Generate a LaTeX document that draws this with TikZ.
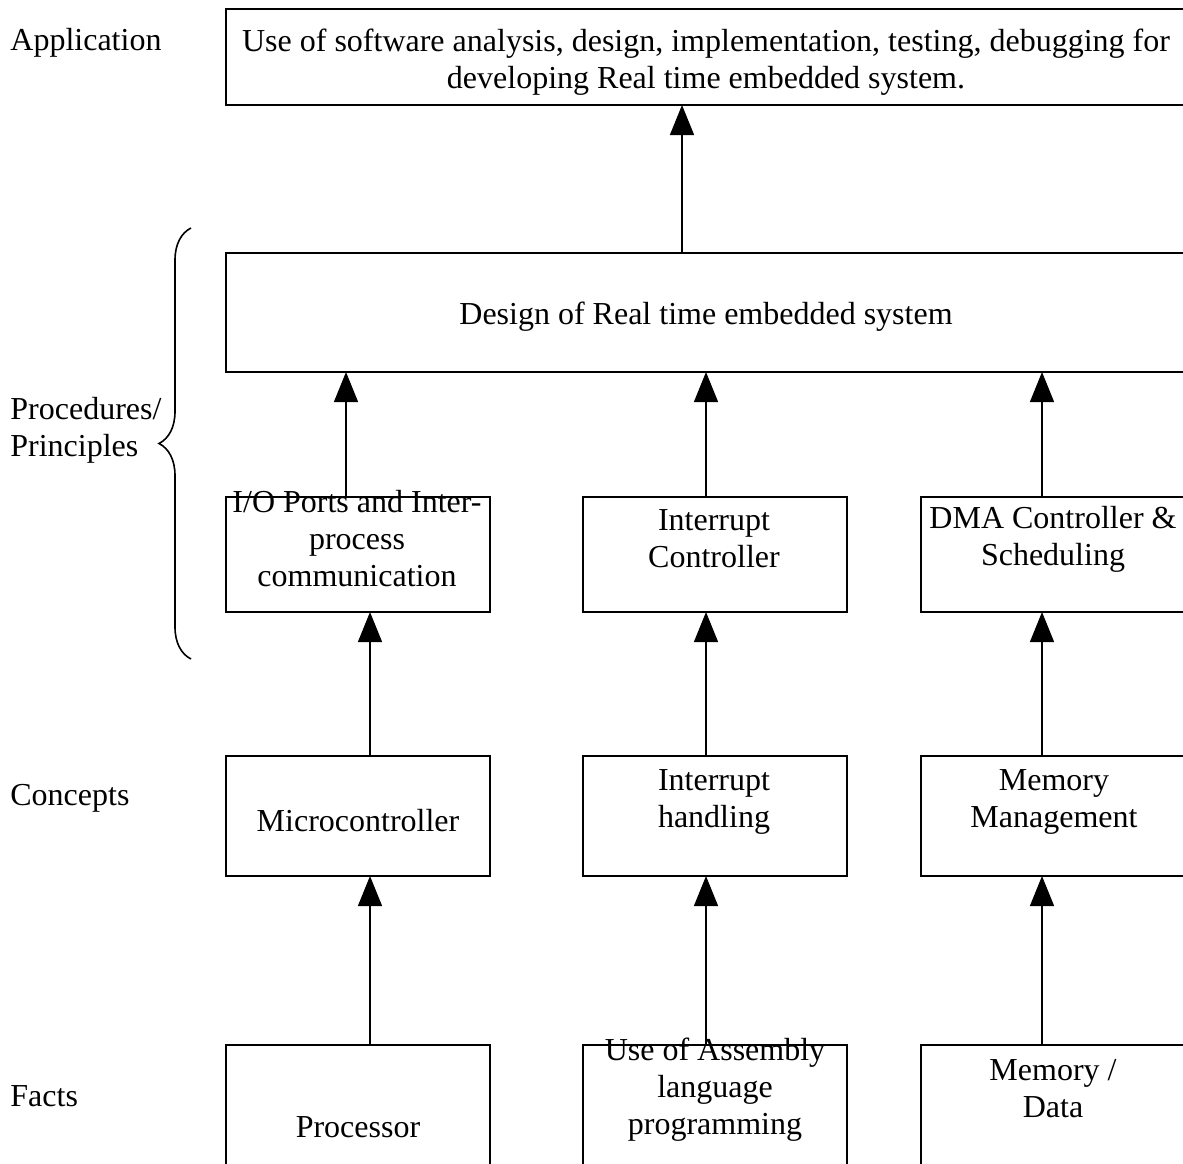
\documentclass[tikz,border=0pt]{standalone}
\usepackage{fontspec}
\setmainfont{Liberation Serif}
\usepackage{tikz}
\usetikzlibrary{calc, arrows.meta, decorations.pathreplacing}

\begin{document}
\begin{tikzpicture}[x=0.5pt, y=-0.5pt,
    blk/.style={draw, line width=0.7pt, inner sep=0pt, outer sep=0pt, minimum width=132pt},
    txt/.style={align=center, inner sep=0pt, font=\fontsize{16}{18.5}\selectfont},
    lbl/.style={anchor=west, align=left, inner sep=0pt, font=\fontsize{16}{18.5}\selectfont},
    arr/.style={line width=0.7pt, -{Triangle[width=12pt, length=15pt]}}]
\useasboundingbox (0,0) rectangle (1183,1163);
\clip (0,0) rectangle (1183,1163);

% levels on the left
\node[lbl] (lapp) at (10,43) {Application};
\node[lbl] (lproc) at (10,430) {Procedures/\\Principles};
\node[lbl] (lcon) at (10,798) {Concepts};
\node[lbl] (lfact) at (10,1096) {Facts};
\draw[line width=0.8pt, decorate, decoration={brace, amplitude=16pt}] (191,659) -- (191,228);

% application and design
\node[blk, minimum width=494pt, minimum height=48pt] (app) at (720,57) {};
\node[txt] (app-t) at (706,62) {Use of software analysis, design, implementation, testing, debugging for\\developing Real time embedded system.};
\node[blk, minimum width=494pt, minimum height=59.5pt] (design) at (720,312.5) {};
\node[txt] (design-t) at (706,317) {Design of Real time embedded system};

% procedures / principles
\node[blk, minimum height=57.5pt] (io) at (358,554.5) {};
\node[txt] (io-t) at (357,539) {I/O Ports and Inter-\\process\\communication};
\node[blk, minimum height=57.5pt] (intc) at (715,554.5) {};
\node[txt] (intc-t) at (714,539) {Interrupt\\Controller};
\node[blk, minimum width=140pt, minimum height=57.5pt] (dma) at (1061,554.5) {};
\node[txt] (dma-t) at (1053,539) {DMA Controller \&\\Scheduling};

% concepts
\node[blk, minimum height=60pt] (micro) at (358,816) {};
\node[txt] (micro-t) at (358,821) {Microcontroller};
\node[blk, minimum height=60pt] (ihand) at (715,816) {};
\node[txt] (ihand-t) at (714,802) {Interrupt\\handling};
\node[blk, minimum width=140pt, minimum height=60pt] (memm) at (1061,816) {};
\node[txt] (memm-t) at (1054,802) {Memory\\Management};

% facts
\node[blk, minimum height=67.5pt] (proc) at (358,1112.5) {};
\node[txt] (proc-t) at (358,1127) {Processor};
\node[blk, minimum height=67.5pt] (asm) at (715,1112.5) {};
\node[txt] (asm-t) at (715,1090) {Use of Assembly\\language\\programming};
\node[blk, minimum width=140pt, minimum height=67.5pt] (memd) at (1061,1112.5) {};
\node[txt] (memd-t) at (1053,1089) {Memory /\\Data};

% arrows upward
\draw[arr] (design.north -| 682,0) -- (app.south -| 682,0);
\draw[arr] (io.north -| 346,0) -- (design.south -| 346,0);
\draw[arr] (intc.north -| 706,0) -- (design.south -| 706,0);
\draw[arr] (dma.north -| 1042,0) -- (design.south -| 1042,0);
\draw[arr] (micro.north -| 370,0) -- (io.south -| 370,0);
\draw[arr] (ihand.north -| 706,0) -- (intc.south -| 706,0);
\draw[arr] (memm.north -| 1042,0) -- (dma.south -| 1042,0);
\draw[arr] (proc.north -| 370,0) -- (micro.south -| 370,0);
\draw[arr] (asm.north -| 706,0) -- (ihand.south -| 706,0);
\draw[arr] (memd.north -| 1042,0) -- (memm.south -| 1042,0);

\end{tikzpicture}
\end{document}
